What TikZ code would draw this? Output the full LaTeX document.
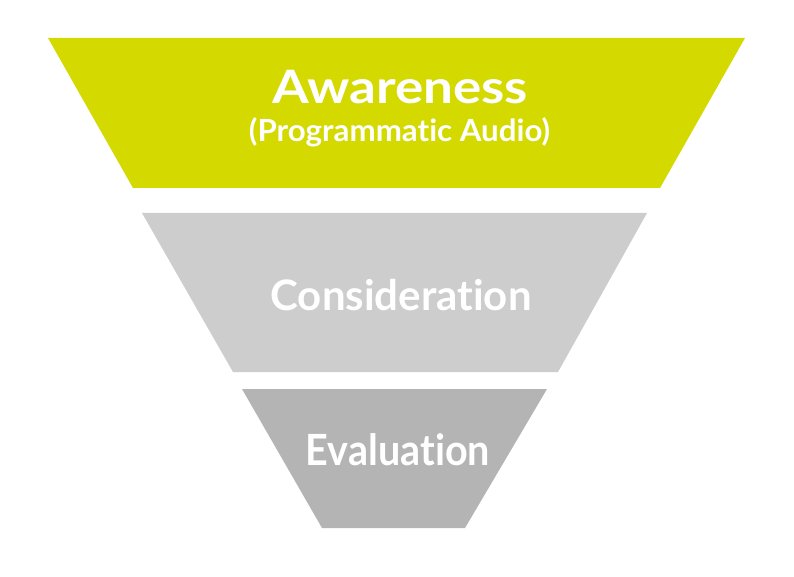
\documentclass[tikz,border=0pt]{standalone}
\usepackage{fontspec}
\setmainfont{Lato}[BoldFont={Lato Bold},Ligatures=NoCommon]
\definecolor{awarecol}{RGB}{212,217,0}
\definecolor{considcol}{RGB}{205,205,205}
\definecolor{evalcol}{RGB}{180,180,180}
\begin{document}
\begin{tikzpicture}[x=1pt,y=-1pt,
  lbl/.style={text=white,anchor=base,inner sep=0pt}]
\useasboundingbox[fill=white] (0,0) rectangle (794,577);
\fill[awarecol] (48,38) -- (745,38) -- (660,188) -- (133,188) -- cycle;
\fill[considcol] (142,213) -- (647,213) -- (558,372) -- (233,372) -- cycle;
\fill[evalcol] (242,389) -- (547,389) -- (465,528) -- (322,528) -- cycle;
\node[lbl,font=\bfseries\fontsize{46}{54}\selectfont] (aw) at (400,104) {\scalebox{1.15}[1]{Awareness}};
\node[lbl,font=\bfseries\fontsize{30.5}{36}\selectfont] (pa) at (399.5,142) {\scalebox{1.025}[1]{(Programmat\kern0pt ic Audio)}};
\node[lbl,font=\bfseries\fontsize{42}{50}\selectfont] (co) at (401,310) {Considerat\kern0pt ion};
\node[lbl,font=\bfseries\fontsize{43}{50}\selectfont] (ev) at (398,465) {\scalebox{0.92}[1]{Evaluat\kern0pt ion}};
\end{tikzpicture}
\end{document}
